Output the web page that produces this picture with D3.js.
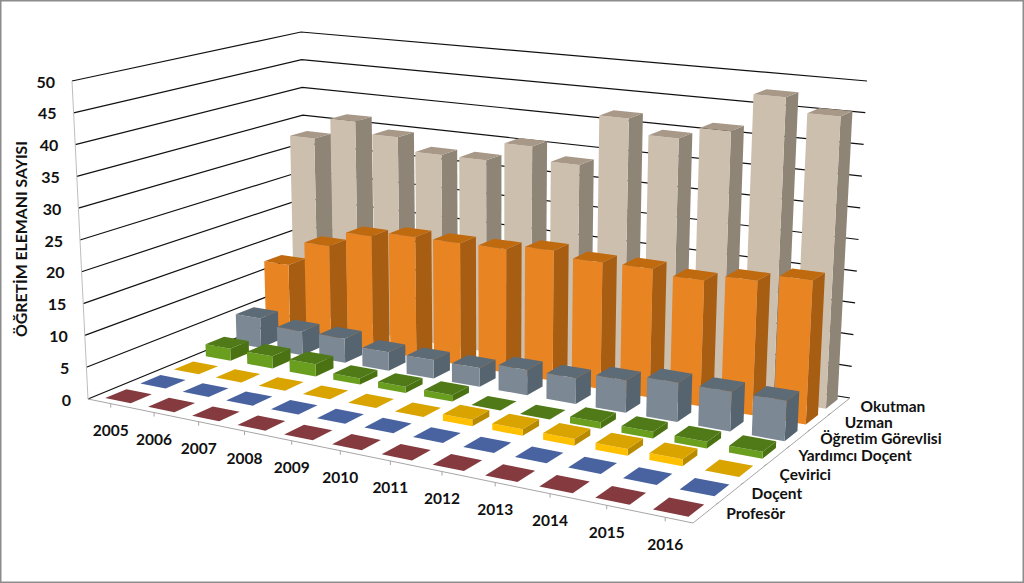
<!DOCTYPE html>
<html><head><meta charset="utf-8">
<script src="https://cdn.jsdelivr.net/npm/d3@7"></script>
<style>html,body{margin:0;padding:0;background:#fff}svg{display:block}text{font-family:Lato,"Open Sans",sans-serif;font-weight:700;fill:#111}</style>
</head><body><svg id="c" width="1024" height="583"></svg>
<script>
const years=["2005","2006","2007","2008","2009","2010","2011","2012","2013","2014","2015","2016"];
const seriesNames=["Profesör","Doçent","Çevirici","Yardımcı Doçent","Öğretim Görevlisi","Uzman","Okutman"];
const profesor=[0,0,0,0,0,0,0,0,0,0,0,0];
const docent=[0,0,0,0,0,0,0,0,0,0,0,0];
const cevirici=[0,0,0,0,0,0,1,1,1,1,1,0];
const yardimci=[2,2,2,1,1,1,0,0,1,1,1,1];
const ogretim=[5,4,4,3,3,3,4,4,5,6,6,6];
const uzman=[12.2,16.5,19.2,20.1,20.1,20.2,21,20.2,20.3,19.6,20.7,21.9];
const okutman=[32.6,36.4,34.5,32.3,32.3,35.5,33.3,41.8,39.4,41.4,47.6,45.4];
const seriesValues=[profesor,docent,cevirici,yardimci,ogretim,uzman,okutman];
const yTicks=[0,5,10,15,20,25,30,35,40,45,50];
const labelNudge=[0,0,4,0,0,4,0];
const colors=[
 {front:"#8A3B3F",side:"#6c2d30",top:"#843A3E"},
 {front:"#4A66A6",side:"#38507f",top:"#48639F"},
 {front:"#FFC000",side:"#B88A00",top:"#D9A300"},
 {front:"#6A9E1F",side:"#4A7213",top:"#4F7A17"},
 {front:"#7C8894",side:"#56646F",top:"#5D6B76"},
 {front:"#E98423",side:"#A85E12",top:"#C06A10"},
 {front:"#CDBFAE",side:"#8F8577",top:"#A89888"}];

const W=1024,H=583;
const svg=d3.select("#c");
const floorQ=[[88,399],[693,523],[850,398],[307,309]]; // FL FR BR BL
const ceilQ=[[72,81],[705,151],[867,81],[301,32]];
function homog(q){
 const [[x0,y0],[x1,y1],[x2,y2],[x3,y3]]=q;
 const dx1=x1-x2,dx2=x3-x2,dy1=y1-y2,dy2=y3-y2,sx=x0-x1+x2-x3,sy=y0-y1+y2-y3;
 const d=dx1*dy2-dx2*dy1;
 const g=(sx*dy2-dx2*sy)/d,h=(dx1*sy-sx*dy1)/d;
 const a=x1-x0+g*x1,b=x3-x0+h*x3,c=x0,e=y1-y0+g*y1,f=y3-y0+h*y3,k=y0;
 return (u,v)=>{const w=g*u+h*v+1;return [(a*u+b*v+c)/w,(e*u+f*v+k)/w];};
}
const hf=homog(floorQ),hc=homog(ceilQ);
const z=d3.scaleLinear().domain([0,50]).range([0,1]);
const uS=d3.scaleBand().domain(years).range([0.003,1.003]);
const vS=d3.scaleBand().domain(seriesNames).range([0,1]);
function P(u,v,val){const a=hf(u,v),b=hc(u,v),t=z(val);return [a[0]+(b[0]-a[0])*t,a[1]+(b[1]-a[1])*t];}
const line=d3.line();

const g=svg.append("g");
yTicks.forEach(t=>{
 g.append("path").attr("d",line([P(0,0,t),P(0,1,t),P(1,1,t)])).attr("fill","none").attr("stroke","#111").attr("stroke-width",1.2);
});
g.append("path").attr("d",line([P(0,0,0),P(0,0,50)])).attr("fill","none").attr("stroke","#bdbdbd").attr("stroke-width",1);
g.append("path").attr("d",line([P(0,0,0),P(1,0,0),P(1,1,0)])).attr("fill","none").attr("stroke","#a6a6a6").attr("stroke-width",1);
years.forEach(y=>{const u=uS(y)+uS.bandwidth()/2,p=P(u,0,0);
 g.append("path").attr("d",line([p,[p[0],p[1]+4]])).attr("stroke","#a6a6a6");});
seriesNames.slice(1).forEach(s=>{const p=P(1,vS(s),0);
 g.append("path").attr("d",line([p,[p[0]-3,p[1]+2]])).attr("stroke","#a6a6a6");});

const gapU=0.6,gapV=0.6;
const bars=svg.append("g");
for(let s=seriesNames.length-1;s>=0;s--){
 const cv=vS(seriesNames[s])+vS.bandwidth()/2,dv=vS.bandwidth()*gapV/2;
 years.forEach((y,i)=>{
  const cu=uS(y)+uS.bandwidth()/2,du=uS.bandwidth()*gapU/2,val=seriesValues[s][i],c=colors[s];
  const u0=cu-du,u1=cu+du,v0=cv-dv,v1=cv+dv;
  const col=bars.append("g");
  if(val>0){
   col.append("path").attr("d",line([P(u1,v0,0),P(u1,v1,0),P(u1,v1,val),P(u1,v0,val)])+"Z").attr("fill",c.side);
   col.append("path").attr("d",line([P(u0,v0,0),P(u1,v0,0),P(u1,v0,val),P(u0,v0,val)])+"Z").attr("fill",c.front);
  }
  col.append("path").attr("d",line([P(u0,v0,val),P(u1,v0,val),P(u1,v1,val),P(u0,v1,val)])+"Z").attr("fill",c.top);
 });
}
yTicks.forEach(t=>{const p=P(0,0,t);
 svg.append("text").attr("x",p[0]-17).attr("y",p[1]+1).attr("dy",".35em").attr("text-anchor","end").attr("font-size",16).text(t);});
years.forEach(y=>{const p=P(uS(y)+uS.bandwidth()/2,0,0);
 svg.append("text").attr("x",p[0]).attr("y",p[1]+27).attr("dy",".35em").attr("text-anchor","middle").attr("font-size",15.5).text(y);});
seriesNames.forEach((s,i)=>{const p=P(1,vS(s)+vS.bandwidth()/2,0);
 svg.append("text").attr("x",p[0]+20+labelNudge[i]).attr("y",p[1]+1).attr("dy",".35em").attr("text-anchor","start").attr("font-size",15.5).text(s);});
svg.append("text").attr("transform","translate(21,239) rotate(-90)").attr("dy",".35em").attr("text-anchor","middle").attr("font-size",15.8).text("ÖĞRETİM ELEMANI SAYISI");
svg.append("rect").attr("x",0.5).attr("y",0.5).attr("width",W-1).attr("height",H-1).attr("fill","none").attr("stroke","#8c8c8c").attr("stroke-width",2);
</script></body></html>
